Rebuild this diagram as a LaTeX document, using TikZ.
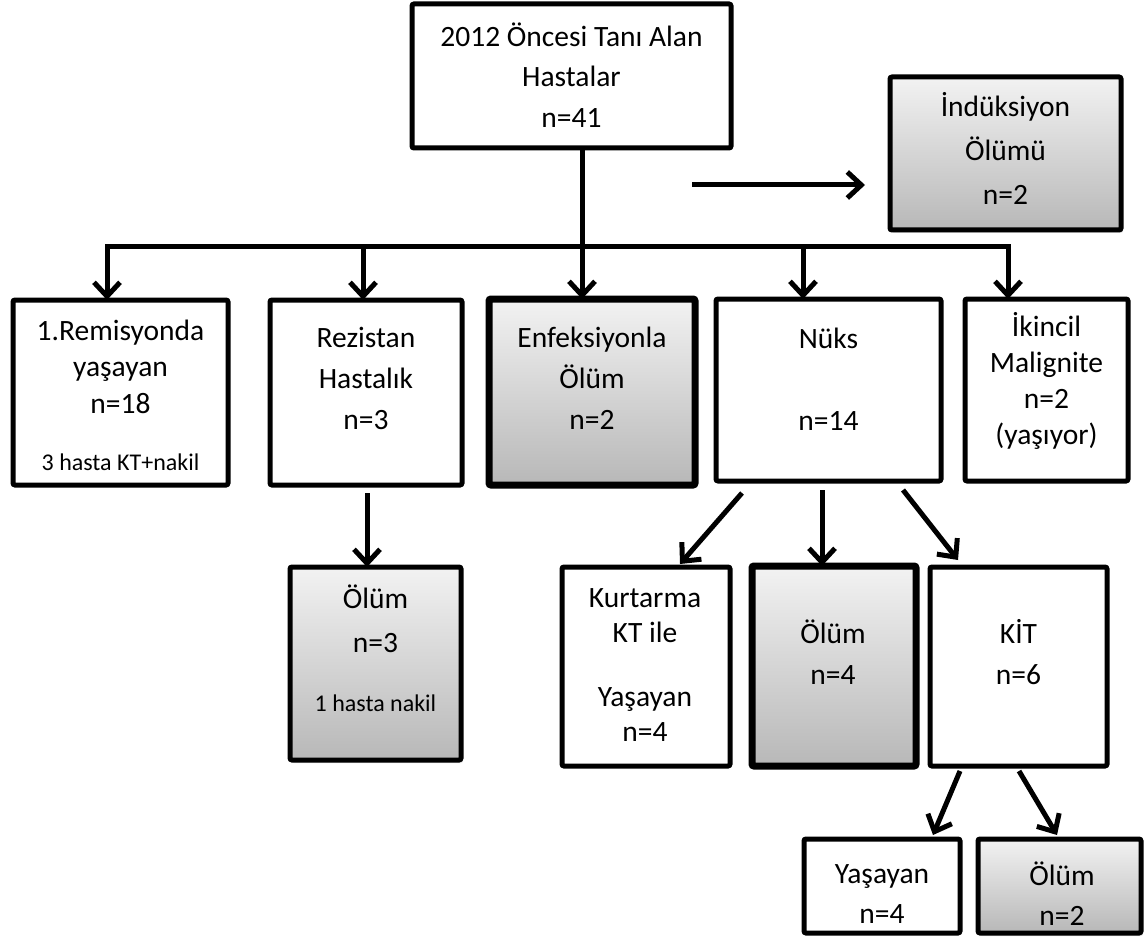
\documentclass[tikz,border=0pt]{standalone}
\usepackage{fontspec}
\setmainfont{Carlito}
\usetikzlibrary{arrows.meta,shadows}
\begin{document}
\begin{tikzpicture}[x=1pt,y=-1pt,
  box/.style={draw, line width=5pt, rounded corners=2pt, inner sep=0pt, outer sep=0pt, fill=white},
  gbox/.style={box, top color=black!5, bottom color=black!28,
    drop shadow={opacity=0.2, shadow xshift=2pt, shadow yshift=-3pt}},
  thick box/.style={line width=7pt},
  txt/.style={align=center, inner sep=0pt, font=\fontsize{29.5}{40}\selectfont},
  small/.style={align=center, inner sep=0pt, font=\fontsize{24}{28}\selectfont},
  ln/.style={line width=5pt},
  arr/.style={line width=5pt, -{Straight Barb[length=14pt,width=26pt]}}]
\useasboundingbox (0,0) rectangle (1145,941);
% boxes
\node[box, minimum width=319pt, minimum height=144pt] (top) at (571.5,76) {};
\node[gbox, minimum width=231pt, minimum height=153pt] (ind) at (1005.5,153.5) {};
\node[box, minimum width=215pt, minimum height=185pt] (r1) at (120.5,392.5) {};
\node[box, minimum width=192pt, minimum height=185pt] (r2) at (366,392.5) {};
\node[gbox, thick box, minimum width=206pt, minimum height=186pt] (enf) at (592,392) {};
\node[box, minimum width=225pt, minimum height=182pt] (nuks) at (828.5,390) {};
\node[box, minimum width=163pt, minimum height=182pt] (ikin) at (1046.5,390) {};
\node[gbox, minimum width=171pt, minimum height=193pt] (ol3) at (375.5,663.5) {};
\node[box, minimum width=168pt, minimum height=199pt] (kurt) at (646,666.5) {};
\node[gbox, thick box, minimum width=164pt, minimum height=200pt] (ol4) at (834,666) {};
\node[box, minimum width=177pt, minimum height=199pt] (kit) at (1018.5,666.5) {};
\node[box, minimum width=156pt, minimum height=94pt] (yas) at (882,886) {};
\node[gbox, minimum width=163pt, minimum height=94pt] (ol2) at (1059.5,886) {};
% texts
\node[txt, font=\fontsize{29.5}{40.5}\selectfont] (topt) at (571.5,75) {2012 Öncesi Tanı Alan\\Hastalar\\n=41};
\node[txt, font=\fontsize{29.5}{44}\selectfont] (indt) at (1005.5,148) {İndüksiyon\\Ölümü\\n=2};
\node[txt, font=\fontsize{29.5}{36.5}\selectfont] (r1t) at (120.5,366.5) {1.Remisyonda\\yaşayan\\n=18};
\node[small] (r1s) at (120.5,462) {3 hasta KT+nakil};
\node[txt, font=\fontsize{29.5}{41}\selectfont] (r2t) at (366,378) {Rezistan\\Hastalık\\n=3};
\node[txt, font=\fontsize{29.5}{41}\selectfont] (enft) at (592,378) {Enfeksiyonla\\Ölüm\\n=2};
\node[txt, font=\fontsize{29.5}{41}\selectfont] (nukst) at (828.5,379) {Nüks\\[41pt]n=14};
\node[txt, font=\fontsize{29.5}{36}\selectfont] (ikint) at (1046.5,381) {İkincil\\Malignite\\n=2\\(yaşıyor)};
\node[txt, font=\fontsize{29.5}{44}\selectfont] (ol3t) at (375.5,619) {Ölüm\\n=3};
\node[small] (ol3s) at (375.5,703) {1 hasta nakil};
\node[txt, font=\fontsize{29.5}{35}\selectfont] (kurtt) at (645,665) {Kurtarma\\KT ile\\[29pt]Yaşayan\\n=4};
\node[txt, font=\fontsize{29.5}{41}\selectfont] (ol4t) at (833,652) {Ölüm\\n=4};
\node[txt, font=\fontsize{29.5}{41}\selectfont] (kitt) at (1018.5,652) {KİT\\n=6};
\node[txt, font=\fontsize{29.5}{40}\selectfont] (yast) at (882,894) {Yaşayan\\n=4};
\node[txt, font=\fontsize{29.5}{40}\selectfont] (ol2t) at (1062,894) {Ölüm\\n=2};
% bus
\coordinate (b1) at (107,247);
\coordinate (b2) at (363,247);
\coordinate (b3) at (582,247);
\coordinate (b4) at (803,247);
\coordinate (b5) at (1008,247);
\draw[ln] (top.south -| b3) -- (b3);
\draw[ln, line cap=rect] (b1) -- (b5);
\draw[arr] (b1) -- (b1 |- r1.north);
\draw[arr] (b2) -- (b2 |- r2.north);
\draw[arr] (b3) -- (b3 |- enf.north);
\draw[arr] (b4) -- (b4 |- nuks.north);
\draw[arr] (b5) -- (b5 |- ikin.north);
% induction arrow
\coordinate (ia) at (692,185);
\coordinate (ib) at (865,185);
\draw[arr] (ia) -- (ib);
% rezistan -> olum
\coordinate (r2s) at (367,493);
\draw[arr] (r2s) -- (r2s |- ol3.north);
% nuks arrows
\coordinate (n1s) at (742,493);
\coordinate (n1e) at (680,564);
\coordinate (n2s) at (822,490);
\coordinate (n3s) at (903,490);
\coordinate (n3e) at (958,560);
\draw[arr] (n1s) -- (n1e);
\draw[arr] (n2s) -- (n2s |- ol4.north);
\draw[arr] (n3s) -- (n3e);
% kit arrows
\coordinate (k1s) at (960,771);
\coordinate (k1e) at (933,835);
\coordinate (k2s) at (1019,771);
\coordinate (k2e) at (1057,835);
\draw[arr] (k1s) -- (k1e);
\draw[arr] (k2s) -- (k2e);
\end{tikzpicture}
\end{document}
